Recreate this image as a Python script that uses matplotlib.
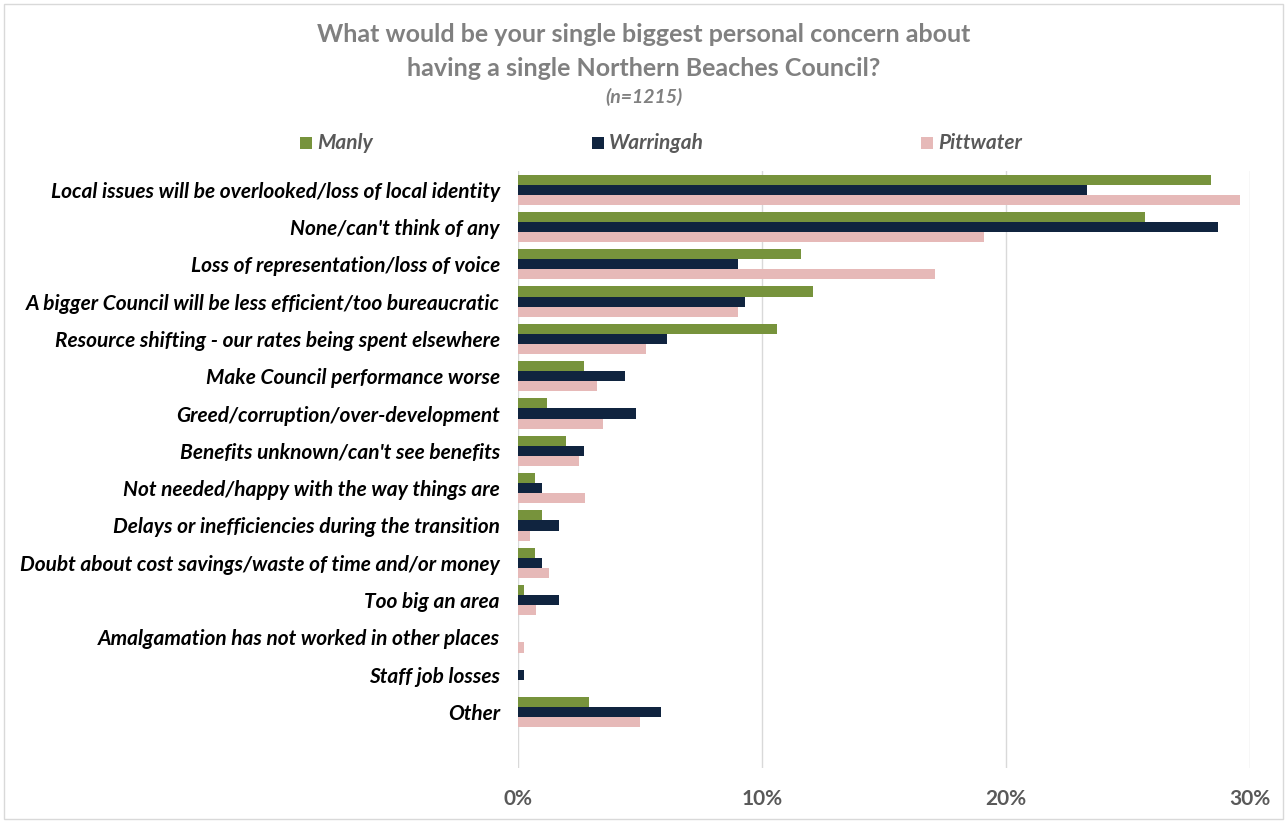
import matplotlib
matplotlib.use("Agg")
import matplotlib.pyplot as plt
from matplotlib.patches import Rectangle
import numpy as np

categories = [
    "Local issues will be overlooked/loss of local identity",
    "None/can't think of any",
    "Loss of representation/loss of voice",
    "A bigger Council will be less efficient/too bureaucratic",
    "Resource shifting - our rates being spent elsewhere",
    "Make Council performance worse",
    "Greed/corruption/over-development",
    "Benefits unknown/can't see benefits",
    "Not needed/happy with the way things are",
    "Delays or inefficiencies during the transition",
    "Doubt about cost savings/waste of time and/or money",
    "Too big an area",
    "Amalgamation has not worked in other places",
    "Staff job losses",
    "Other",
]
manly = [28.4, 25.7, 11.6, 12.1, 10.6, 2.7, 1.2, 1.95, 0.7, 1.0, 0.7, 0.25, 0.0, 0.0, 2.9]
warringah = [23.3, 28.7, 9.0, 9.3, 6.1, 4.4, 4.85, 2.7, 1.0, 1.7, 1.0, 1.7, 0.0, 0.25, 5.85]
pittwater = [29.6, 19.1, 17.1, 9.0, 5.25, 3.25, 3.5, 2.5, 2.75, 0.5, 1.25, 0.75, 0.25, 0.0, 5.0]
series_names = ["Manly", "Warringah", "Pittwater"]
colors = ["#77933C", "#10243F", "#E6B9B8"]
xticks = [0, 10, 20, 30]
xtick_labels = ["0%", "10%", "20%", "30%"]

FONT = ["Lato", "DejaVu Sans"]
plt.rcParams["font.family"] = FONT

W, H = 1287, 823
fig = plt.figure(figsize=(W / 100, H / 100), dpi=100)

left, right, top, bottom = 518, 1250, 171, 768
ax = fig.add_axes([left / W, 1 - bottom / H, (right - left) / W, (bottom - top) / H])

y = np.arange(len(categories))
h = 0.27
for off, vals, c in zip([-h, 0, h], [manly, warringah, pittwater], colors):
    ax.barh(y + off, vals, height=h, color=c, edgecolor="none", zorder=3)

ax.set_xlim(0, 30)
ax.set_ylim(len(categories) + 0.5, -0.5)
ax.set_xticks(xticks)
ax.set_xticklabels(xtick_labels, fontsize=15, fontweight="bold", color="#595959")
ax.set_yticks(y)
ax.set_yticklabels(categories, fontsize=15, fontweight="bold", style="italic", color="#000000")
ax.tick_params(axis="both", length=0)
ax.tick_params(axis="x", pad=15)
ax.tick_params(axis="y", pad=13)
ax.grid(axis="x", color="#D9D9D9", linewidth=1, zorder=0)
for s in ax.spines.values():
    s.set_visible(False)

# Title
fig.text(0.5, 1 - 34 / H, "What would be your single biggest personal concern about",
         ha="center", va="center", fontsize=18, fontweight="bold", color="#808080")
fig.text(0.5, 1 - 68 / H, "having a single Northern Beaches Council?",
         ha="center", va="center", fontsize=18, fontweight="bold", color="#808080")
fig.text(0.5, 1 - 97 / H, "(n=1215)", ha="center", va="center", fontsize=14,
         fontweight="bold", style="italic", color="#808080")

# Legend
leg_x = [300, 592, 921]
for name, c, lx in zip(series_names, colors, leg_x):
    fig.patches.append(Rectangle((lx / W, 1 - 149 / H), 12 / W, 12 / H, transform=fig.transFigure,
                                 facecolor=c, edgecolor="none"))
    fig.text((lx + 17) / W, 1 - 143 / H, name, ha="left", va="center", fontsize=15,
             fontweight="bold", style="italic", color="#595959")

# Border
fig.patches.append(Rectangle((4 / W, 4 / H), (W - 8) / W, (H - 8) / H, transform=fig.transFigure,
                             facecolor="none", edgecolor="#D9D9D9", linewidth=1))

fig.savefig("out.png", dpi=100)
